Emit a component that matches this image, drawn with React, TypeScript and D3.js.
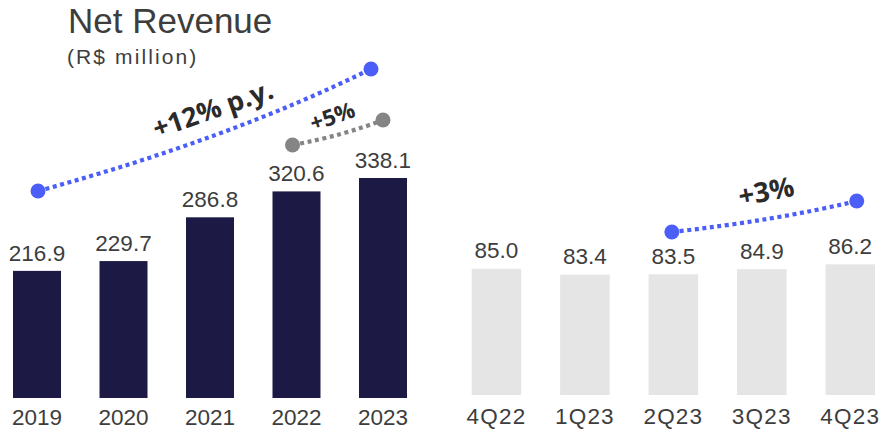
import React from 'react';
import * as d3 from 'd3';

const years = ['2019', '2020', '2021', '2022', '2023'];
const annualRevenue = [216.9, 229.7, 286.8, 320.6, 338.1];
const quarters = ['4Q22', '1Q23', '2Q23', '3Q23', '4Q23'];
const quarterlyRevenue = [85.0, 83.4, 83.5, 84.9, 86.2];
const growthLabels = ['+12% p.y.', '+5%', '+3%'];
const titleText = 'Net Revenue';
const subtitleText = '(R$ million)';

const W = 885;
const H = 430;
const NAVY = '#1c1a45';
const LIGHT = '#e5e5e5';
const BLUE = '#4b5ef8';
const GREY = '#858585';
const TEXT = '#3d3d3d';
const DARK = '#2b2b2b';
const FONT = "'Liberation Sans', Arial, sans-serif";
const BOLD_FONT = "'Open Sans', sans-serif";
const fmt = d3.format('.1f');

export default function App() {
  const xA = d3.scaleBand<string>().domain(years).range([13, 407]).paddingInner(0.445).paddingOuter(0);
  const yA = d3.scaleLinear().domain([51, 338.1]).range([398, 178]);
  const xQ = d3.scaleBand<string>().domain(quarters).range([471.7, 875]).paddingInner(0.44).paddingOuter(0);
  const yQ = d3.scaleLinear().domain([51, 86.2]).range([395, 264.3]);

  const cA = (k: string) => (xA(k) as number) + xA.bandwidth() / 2;
  const cQ = (k: string) => (xQ(k) as number) + xQ.bandwidth() / 2;

  const curve = (p0: [number, number], p1: [number, number], sag: number) => {
    const mx = (p0[0] + p1[0]) / 2;
    const my = (p0[1] + p1[1]) / 2;
    const dx = p1[0] - p0[0];
    const dy = p1[1] - p0[1];
    const len = Math.hypot(dx, dy);
    const nx = -dy / len;
    const ny = dx / len;
    const path = d3.path();
    path.moveTo(p0[0], p0[1]);
    path.quadraticCurveTo(mx + nx * sag * 2 + dx * 0.06, my + ny * sag * 2, p1[0], p1[1]);
    return path.toString();
  };

  // annotation endpoints anchored to band centres
  const b0: [number, number] = [cA('2019') + 1, 191];
  const b1: [number, number] = [cA('2023') - 12, 69];
  const g0: [number, number] = [cA('2022') - 4, 145];
  const g1: [number, number] = [cA('2023'), 120];
  const q0: [number, number] = [cQ('2Q23') - 1.5, 232];
  const q1: [number, number] = [cQ('4Q23') + 6.5, 201];

  return (
    <svg width={W} height={H} style={{ position: 'absolute', left: 0, top: 0, background: '#fff' }} fontFamily={FONT}>
      <text x={68} y={33} fontSize={35} fill={TEXT}>{titleText}</text>
      <text x={67} y={64} fontSize={21} fill={TEXT} letterSpacing={2.1}>{subtitleText}</text>

      {years.map((y, i) => (
        <g key={y}>
          <rect x={xA(y)} y={yA(annualRevenue[i])} width={xA.bandwidth()} height={yA(51) - yA(annualRevenue[i])} fill={NAVY} />
          <text x={cA(y)} y={yA(annualRevenue[i]) - 10} textAnchor="middle" fontSize={22.5} fill={TEXT}>{fmt(annualRevenue[i])}</text>
          <text x={cA(y)} y={425} textAnchor="middle" fontSize={22.5} fill={TEXT}>{y}</text>
        </g>
      ))}

      {quarters.map((q, i) => (
        <g key={q}>
          <rect x={xQ(q)} y={yQ(quarterlyRevenue[i])} width={xQ.bandwidth()} height={yQ(51) - yQ(quarterlyRevenue[i])} fill={LIGHT} />
          <text x={cQ(q)} y={yQ(quarterlyRevenue[i]) - 10.5} textAnchor="middle" fontSize={22.5} fill={TEXT}>{fmt(quarterlyRevenue[i])}</text>
          <text x={cQ(q)} y={423.5} textAnchor="middle" fontSize={22.5} fill={TEXT} letterSpacing={1.2}>{q}</text>
        </g>
      ))}

      {/* +12% p.y. */}
      <path d={curve(b0, b1, 5)} fill="none" stroke={BLUE} strokeWidth={4.2} strokeDasharray="4 3.6" />
      <circle cx={b0[0]} cy={b0[1]} r={7.5} fill={BLUE} />
      <circle cx={b1[0]} cy={b1[1]} r={7.5} fill={BLUE} />
      <text x={0} y={0} transform="translate(216,118) rotate(-19)" textAnchor="middle" fontFamily={BOLD_FONT} fontSize={27} fontWeight={700} fill={DARK}>{growthLabels[0]}</text>

      {/* +5% */}
      <path d={curve(g0, g1, 1.5)} fill="none" stroke={GREY} strokeWidth={4.2} strokeDasharray="4 3.6" />
      <circle cx={g0[0]} cy={g0[1]} r={7.5} fill={GREY} />
      <circle cx={g1[0]} cy={g1[1]} r={7.5} fill={GREY} />
      <text x={0} y={0} transform="translate(335,124) rotate(-19)" textAnchor="middle" fontFamily={BOLD_FONT} fontSize={22.5} fontWeight={700} fill={DARK}>{growthLabels[1]}</text>

      {/* +3% */}
      <path d={curve(q0, q1, 2)} fill="none" stroke={BLUE} strokeWidth={4.2} strokeDasharray="4 3.6" />
      <circle cx={q0[0]} cy={q0[1]} r={7.5} fill={BLUE} />
      <circle cx={q1[0]} cy={q1[1]} r={7.5} fill={BLUE} />
      <text x={0} y={0} transform="translate(768,201) rotate(-11)" textAnchor="middle" fontFamily={BOLD_FONT} fontSize={27.5} fontWeight={700} fill={DARK}>{growthLabels[2]}</text>
    </svg>
  );
}
